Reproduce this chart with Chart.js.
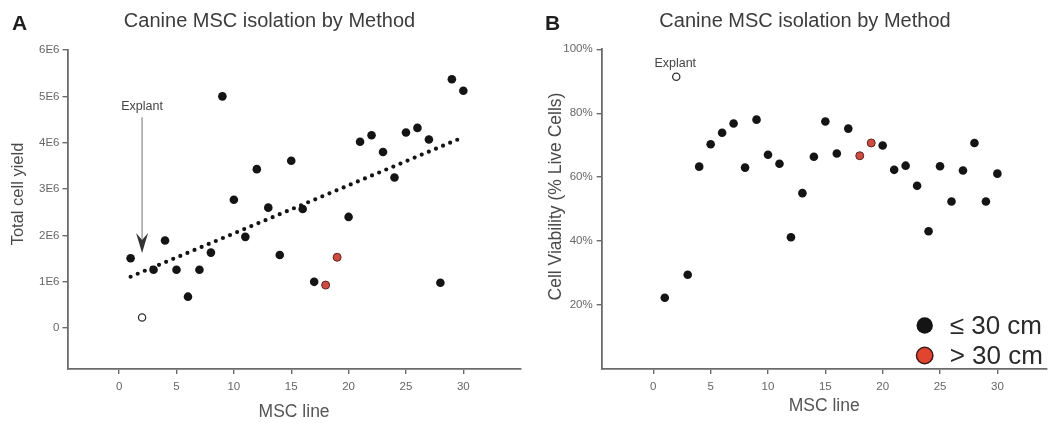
<!DOCTYPE html>
<html>
<head>
<meta charset="utf-8">
<script src="https://cdn.jsdelivr.net/npm/chart.js@4.4.1/dist/chart.umd.min.js"></script>
<style>
  body { margin: 0; background: #fff; }
  #wrap { position: relative; width: 1052px; height: 423px; }
  #wrap canvas { position: absolute; top: 0; }
</style>
</head>
<body>
<div id="wrap">
  <canvas id="chartA" width="526" height="423" style="left:0"></canvas>
  <canvas id="chartB" width="526" height="423" style="left:526px"></canvas>
</div>
<script>
// MSC lines, grouped by donor size
const smallLines = [1, 3, 4, 5, 6, 7, 8, 9, 10, 11, 12, 13, 14, 15, 16, 17, 20, 21, 22, 23, 24, 25, 26, 27, 28, 29, 30];
const largeLines = [18, 19];
const explantLine = [2];

// Panel A: total cell yield
const yieldSmall = [1.51e6, 1.26e6, 1.89e6, 1.26e6, 0.68e6, 1.26e6, 1.63e6, 5.0e6, 2.77e6, 1.97e6, 3.43e6, 2.60e6, 1.58e6, 3.61e6,
  2.57e6, 1.0e6, 2.40e6, 4.02e6, 4.16e6, 3.80e6, 3.25e6, 4.22e6, 4.32e6, 4.07e6, 0.98e6, 5.37e6, 5.12e6];
const yieldLarge = [0.93e6, 1.53e6];
const yieldExplant = [0.23e6];
const trendX = [1, 30];
const trendY = [1.11e6, 4.12e6];

// Panel B: cell viability (% live cells)
const viabSmall = [22.3, 29.5, 63.3, 70.3, 73.9, 76.8, 63.0, 78.0, 67.0, 64.2, 41.2, 55.0, 66.4, 77.4,
  67.4, 75.2, 69.9, 62.3, 63.6, 57.3, 43.1, 63.4, 52.4, 62.1, 70.7, 52.4, 61.1];
const viabLarge = [66.7, 70.7];
const viabExplant = [91.4];

// ticks
const xTicks = [0, 5, 10, 15, 20, 25, 30];
const yTicksA = [0, 1e6, 2e6, 3e6, 4e6, 5e6, 6e6];
const yTickLabelsA = ['0', '1E6', '2E6', '3E6', '4E6', '5E6', '6E6'];
const yTicksB = [20, 40, 60, 80, 100];
const yTickLabelsB = ['20%', '40%', '60%', '80%', '100%'];

const legendLabels = ['\u2264 30 cm', '> 30 cm'];

const FONT = "'Liberation Sans', Arial, Helvetica, sans-serif";
const BLACK = '#141414';
const RED = '#cf4a40';
const AXIS = '#6b6b6b';
Chart.defaults.font.family = FONT;

const pts = (xs, ys) => xs.map((x, i) => ({ x: x, y: ys[i] }));

function pointSets(ySmall, yLarge, yExplant) {
  return [
    { label: legendLabels[0], data: pts(smallLines, ySmall), backgroundColor: BLACK, borderColor: BLACK,
      pointRadius: 4.3, borderWidth: 0 },
    { label: legendLabels[1], data: pts(largeLines, yLarge), backgroundColor: RED, borderColor: '#5e2520',
      pointRadius: 4, borderWidth: 1 },
    { label: 'Explant', data: pts(explantLine, yExplant), backgroundColor: '#fff', borderColor: '#333',
      pointRadius: 3.6, borderWidth: 1.3 }
  ];
}

function xScale(min, max, titlePad) {
  return {
    type: 'linear', min: min, max: max,
    afterBuildTicks: s => { s.ticks = xTicks.map(v => ({ value: v })); },
    afterFit: s => { s.height = 54; },
    grid: { drawOnChartArea: false, tickLength: 5, color: AXIS, lineWidth: 1.4 },
    border: { color: AXIS, width: 1.8 },
    ticks: { color: '#666', font: { size: 11.5 }, padding: 6, maxRotation: 0, autoSkip: false },
    title: { display: true, text: 'MSC line', color: '#555', font: { size: 17.5 }, padding: { top: 0, bottom: titlePad } }
  };
}

function yScale(min, max, ticks, labels, width, pad) {
  return {
    type: 'linear', min: min, max: max,
    afterBuildTicks: s => { s.ticks = ticks.map(v => ({ value: v })); },
    afterFit: s => { s.width = width; },
    grid: { drawOnChartArea: false, tickLength: 5, color: AXIS, lineWidth: 1.4 },
    border: { color: AXIS, width: 1.8 },
    ticks: { color: '#666', font: { size: 11.5 }, padding: pad, autoSkip: false,
      callback: (v, i) => labels[i] }
  };
}

// letter, title and rotated y title
const decor = {
  id: 'decor',
  afterDraw(chart, args, o) {
    const ctx = chart.ctx;
    ctx.save();
    ctx.fillStyle = '#1e1e1e';
    ctx.font = 'bold 21px ' + FONT;
    ctx.textAlign = 'left';
    ctx.fillText(o.letter, o.letterX, 30);

    ctx.fillStyle = '#3c3c3c';
    ctx.font = '20px ' + FONT;
    ctx.textAlign = 'center';
    ctx.fillText(o.title, o.titleX, 26.5);

    ctx.translate(o.yTitleX, o.yTitleY);
    ctx.rotate(-Math.PI / 2);
    ctx.fillStyle = '#4a4a4a';
    ctx.font = o.yTitleSize + 'px ' + FONT;
    ctx.textBaseline = 'middle';
    ctx.fillText(o.yTitle, 0, 0);
    ctx.restore();
  }
};

// Explant arrow on panel A
const arrowA = { labelY: 4.78e6, fromY: 4.55e6, toY: 1.62e6 };
const explantArrow = {
  id: 'explantArrow',
  afterDatasetsDraw(chart) {
    const ctx = chart.ctx, xs = chart.scales.x, ys = chart.scales.y;
    const x = xs.getPixelForValue(explantLine[0]);
    const y0 = ys.getPixelForValue(arrowA.fromY), y1 = ys.getPixelForValue(arrowA.toY);
    ctx.save();
    ctx.fillStyle = '#444';
    ctx.font = '12.5px ' + FONT;
    ctx.textAlign = 'center';
    ctx.textBaseline = 'middle';
    ctx.fillText('Explant', x, ys.getPixelForValue(arrowA.labelY));
    ctx.strokeStyle = '#8a8a8a';
    ctx.lineWidth = 1.2;
    ctx.beginPath();
    ctx.moveTo(x, y0);
    ctx.lineTo(x, y1 - 10);
    ctx.stroke();
    ctx.fillStyle = '#333';
    ctx.beginPath();
    ctx.moveTo(x, y1);
    ctx.lineTo(x - 6, y1 - 20);
    ctx.lineTo(x, y1 - 13);
    ctx.lineTo(x + 6, y1 - 20);
    ctx.closePath();
    ctx.fill();
    ctx.restore();
  }
};

// Explant label and size legend on panel B
const legendB = {
  id: 'legendB',
  afterDatasetsDraw(chart) {
    const ctx = chart.ctx, xs = chart.scales.x, ys = chart.scales.y, a = chart.chartArea;
    ctx.save();
    ctx.fillStyle = '#444';
    ctx.font = '12.5px ' + FONT;
    ctx.textAlign = 'center';
    ctx.textBaseline = 'middle';
    ctx.fillText('Explant', xs.getPixelForValue(explantLine[0]) - 1, ys.getPixelForValue(viabExplant[0]) - 13);

    const fills = [BLACK, '#e2452f'];
    const cx = a.right - 122;
    ctx.font = '26px ' + FONT;
    ctx.textAlign = 'left';
    legendLabels.forEach((lab, i) => {
      const cy = a.bottom - 43.5 + i * 30;
      ctx.beginPath();
      ctx.arc(cx, cy, 8.2, 0, Math.PI * 2);
      ctx.fillStyle = fills[i];
      ctx.fill();
      if (i === 1) { ctx.strokeStyle = '#3a1a16'; ctx.lineWidth = 1.5; ctx.stroke(); }
      ctx.fillStyle = '#2a2a2a';
      ctx.fillText(lab, cx + 25, cy + 1);
    });
    ctx.restore();
  }
};

new Chart(document.getElementById('chartA'), {
  type: 'scatter',
  data: {
    datasets: [
      { label: 'trend', data: pts(trendX, trendY), showLine: true, pointRadius: 0, borderColor: BLACK,
        borderWidth: 4.2, borderDash: [0, 7.7], borderCapStyle: 'round', fill: false },
      ...pointSets(yieldSmall, yieldLarge, yieldExplant)
    ]
  },
  options: {
    responsive: false,
    animation: false,
    events: [],
    layout: { padding: { top: 50, left: 0, right: 1, bottom: 0 } },
    scales: {
      x: xScale(-4.5, 35, 0),
      y: yScale(-0.88e6, 6e6, yTicksA, yTickLabelsA, 67.5, 3)
    },
    plugins: {
      legend: { display: false },
      tooltip: { enabled: false },
      decor: { letter: 'A', letterX: 12, title: 'Canine MSC isolation by Method', titleX: 269.5,
        yTitle: 'Total cell yield', yTitleX: 18, yTitleY: 194, yTitleSize: 16.5 }
    }
  },
  plugins: [decor, explantArrow]
});

new Chart(document.getElementById('chartB'), {
  type: 'scatter',
  data: { datasets: pointSets(viabSmall, viabLarge, viabExplant) },
  options: {
    responsive: false,
    animation: false,
    events: [],
    layout: { padding: { top: 49.3, left: 0, right: 2, bottom: 0 } },
    scales: {
      x: xScale(-4.5, 34.3, 6),
      y: yScale(0, 100, yTicksB, yTickLabelsB, 75.7, 4)
    },
    plugins: {
      legend: { display: false },
      tooltip: { enabled: false },
      decor: { letter: 'B', letterX: 19, title: 'Canine MSC isolation by Method', titleX: 279,
        yTitle: 'Cell Viability (% Live Cells)', yTitleX: 30.5, yTitleY: 196.5, yTitleSize: 17.5 }
    }
  },
  plugins: [decor, legendB]
});
</script>
</body>
</html>
